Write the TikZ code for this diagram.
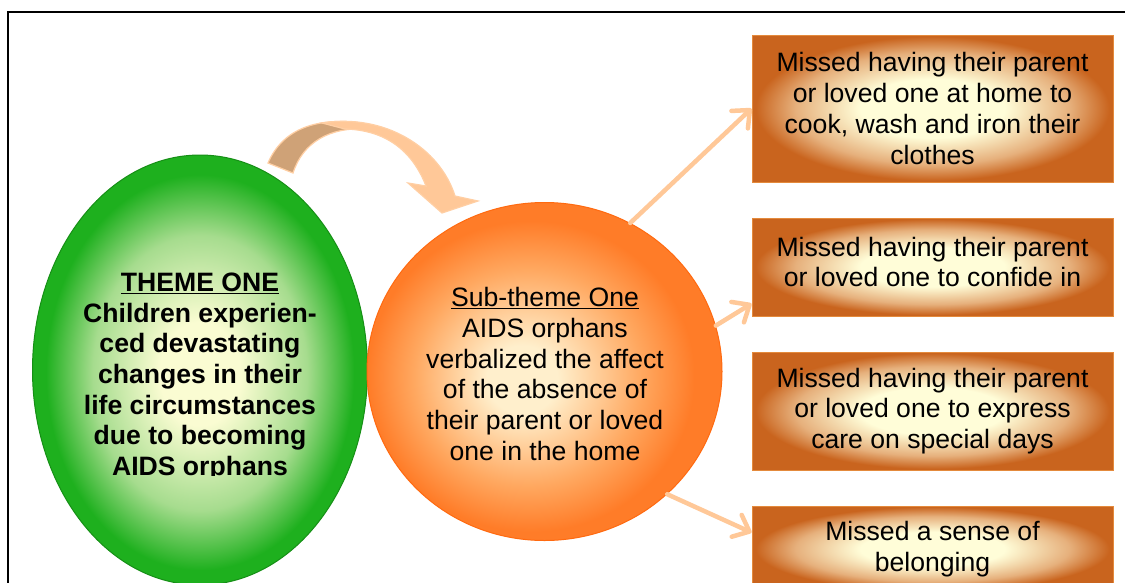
\documentclass[tikz,border=0pt]{standalone}
\usepackage{fontspec}
\setmainfont{Liberation Sans}
\usetikzlibrary{shapes.geometric,arrows.meta,calc}
\definecolor{gin}{HTML}{FAFCD2}
\definecolor{gmid}{HTML}{A6DC8E}
\definecolor{gout}{HTML}{1EB01E}
\definecolor{gline}{HTML}{168F16}
\definecolor{oin}{HTML}{FFEFCC}
\definecolor{omid}{HTML}{FFA860}
\definecolor{oout}{HTML}{FF7C28}
\definecolor{oline}{HTML}{FF6A10}
\definecolor{bin}{HTML}{FFFDD8}
\definecolor{bmid}{HTML}{E6B07C}
\definecolor{bout}{HTML}{C9641E}
\definecolor{bline}{HTML}{E48A3C}
\definecolor{peach}{HTML}{FFC898}
\definecolor{peachline}{HTML}{FFCFA4}
\definecolor{tanc}{HTML}{CFA277}
\pgfdeclareradialshading{greenshade}{\pgfpoint{0bp}{-0.5bp}}{color(0bp)=(gin); color(6bp)=(gin); color(16bp)=(gmid); color(23bp)=(gout); color(50bp)=(gout)}
\pgfdeclareradialshading{orangeshade}{\pgfpoint{-3.5bp}{-1.3bp}}{color(0bp)=(oin); color(5bp)=(oin); color(16bp)=(omid); color(23bp)=(oout); color(50bp)=(oout)}
\pgfdeclareradialshading{boxshade}{\pgfpoint{0bp}{0bp}}{color(0bp)=(bin); color(10bp)=(bin); color(19bp)=(bmid); color(24.5bp)=(bout); color(50bp)=(bout)}
\tikzset{
  txt/.style={font=\fontsize{26.6}{30.7}\selectfont, align=center, inner sep=0pt},
  greenell/.style={ellipse, inner sep=0pt, minimum width=335, minimum height=430, shading=greenshade, draw=gline, line width=1},
  orangeell/.style={ellipse, inner sep=0pt, minimum width=355, minimum height=338, shading=orangeshade, draw=oline, line width=1},
  boxnode/.style={rectangle, inner sep=0pt, minimum width=361, shading=boxshade, draw=bline, line width=1, txt},
  conn/.style={draw=peach, line width=4.5, line cap=round, -{Straight Barb[length=14pt,width=24pt,round]}},
  frameline/.style={draw=black, line width=2}
}
\begin{document}
\begin{tikzpicture}[x=1pt,y=-1pt]
\useasboundingbox (0,0) rectangle (1125,582);
\clip (0,0) rectangle (1125,582);
\fill[white] (0,0) rectangle (1125,582);
\draw[frameline] (8,590) -- (8,11.5) -- (1130,11.5);

% curved block arrow
\filldraw[fill=tanc, draw=peachline, line width=1.2] (268,163) .. controls (283,128) and (318,117) .. (362,123) -- (366,129) .. controls (330,127) and (303,142) .. (293,173) -- cycle;
\filldraw[fill=peach, draw=peachline, line width=1.2] (322,123) .. controls (385,113) and (440,148) .. (455,196) -- (478,201) -- (442,213) -- (408,183) -- (426,186) .. controls (412,150) and (385,130) .. (345,129) -- cycle;

\node[greenell] (theme) at (200,370) {};
\node[orangeell] (sub) at (544.5,371.5) {};

\begin{scope}
\clip (0,0) rectangle (1125,475);
\node[txt, font=\fontsize{26.6}{30.7}\selectfont\bfseries] (themetext) at (200,377) {\underline{THEME ONE}\\Children experien-\\ced devastating\\changes in their\\life circumstances\\due to becoming\\AIDS orphans};
\end{scope}
\node[txt] (subtext) at (545,374) {\underline{Sub-theme One}\\AIDS orphans\\verbalized the affect\\of the absence of\\their parent or loved\\one in the home};

\node[boxnode, minimum height=147] (b1) at (932.5,108.5) {Missed having their parent\\or loved one at home to\\cook, wash and iron their\\clothes};
\node[boxnode, minimum height=98] (b2) at (932.5,267) {};
\node[txt] (b2text) at (932.5,262) {Missed having their parent\\or loved one to confide in};
\node[boxnode, minimum height=118] (b3) at (932.5,411) {Missed having their parent\\or loved one to express\\care on special days};
\node[boxnode, minimum height=86] (b4) at (932.5,549) {Missed a sense of\\belonging};

\draw[conn] (sub.60) -- (b1.west);
\draw[conn] (sub.15) -- ($(b2.south west)!0.13!(b2.north west)$);
\draw[conn] (sub.-45) -- ($(b4.north west)+(0,27)$);
\end{tikzpicture}
\end{document}
